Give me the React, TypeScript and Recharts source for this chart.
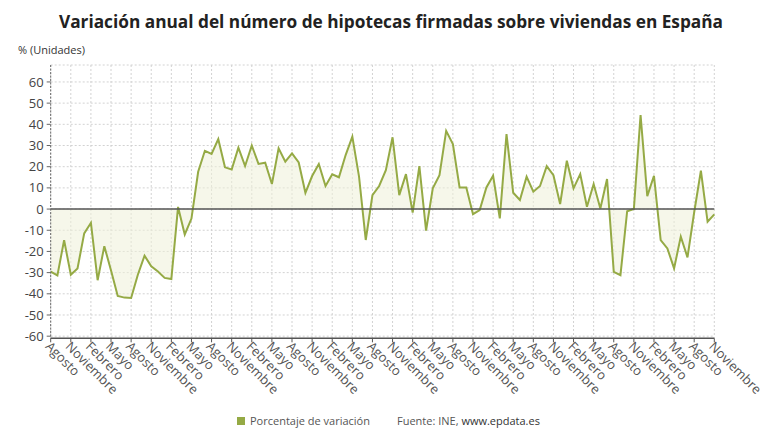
import React from 'react';
import { AreaChart, Area, XAxis, YAxis, CartesianGrid, ReferenceLine } from 'recharts';

// Variación anual (%) del número de hipotecas sobre viviendas, serie mensual
const variacion: number[] = [
  -29.5, -31.3, -14.7, -31, -28, -11.5, -6.5, -33.6, -17.5, -29,
  -41, -41.8, -42, -31, -22, -27, -29.5, -32.5, -33, 1,
  -12, -4.5, 17.6, 27.5, 26, 33, 19.7, 18.7, 29, 20.3,
  30, 21.3, 21.9, 11.8, 28.7, 22.4, 26.3, 22, 7.7, 15.6,
  21.3, 10.9, 16.4, 15, 25.5, 34.2, 15.3, -14.6, 6.6, 10.9,
  18.4, 33.9, 6.6, 16.5, -1.7, 20.3, -10.2, 9.8, 16, 36.9,
  30.7, 10.2, 10.2, -2.4, -0.5, 10.2, 15.7, -4.4, 35.4, 7.7,
  4.3, 15.3, 8.2, 10.9, 20.3, 16, 2.4, 22.8, 9.8, 16.5,
  1.1, 11.8, 0.3, 14.2, -29.6, -31.2, -1, 0, 44.4, 6.1,
  15.7, -14.6, -18.6, -28, -13, -22.8, -1.5, 18.1, -6, -2.5,
];

// Etiquetas trimestrales del eje horizontal
const etiquetasMes: string[] = [
  'Agosto', 'Noviembre', 'Febrero', 'Mayo', 'Agosto', 'Noviembre', 'Febrero', 'Mayo',
  'Agosto', 'Noviembre', 'Febrero', 'Mayo', 'Agosto', 'Noviembre', 'Febrero', 'Mayo',
  'Agosto', 'Noviembre', 'Febrero', 'Mayo', 'Agosto', 'Noviembre', 'Febrero', 'Mayo',
  'Agosto', 'Noviembre', 'Febrero', 'Mayo', 'Agosto', 'Noviembre', 'Febrero', 'Mayo',
  'Agosto', 'Noviembre',
];

const ticksY: number[] = [-60, -50, -40, -30, -20, -10, 0, 10, 20, 30, 40, 50, 60];

const VERDE = '#95aa45';
const FUENTE = '"Open Sans", sans-serif';

const datos = variacion.map((v, i) => ({ i, v }));
const ticksX = etiquetasMes.map((_, k) => k * 3);

const MesTick = (props: any) => {
  const { x, y, payload } = props;
  const etiqueta = etiquetasMes[Math.round(payload.value / 3)];
  return (
    <g transform={`translate(${x - 6},${y + 3}) rotate(45)`}>
      <text x={0} y={0} textAnchor="start" fontSize={13} fill="#555" fontFamily={FUENTE}>
        {etiqueta}
      </text>
    </g>
  );
};

export default function App() {
  return (
    <div style={{ position: 'absolute', left: 0, top: 0, width: 780, height: 440, background: '#fff' }}>
      <AreaChart
        width={780}
        height={440}
        data={datos}
        margin={{ top: 65, right: 65.7, bottom: 71.7, left: 5.7 }}
      >
        <CartesianGrid stroke="#d2d2d2" strokeDasharray="2 2" />
        <XAxis
          dataKey="i"
          type="number"
          domain={[0, 99]}
          ticks={ticksX}
          interval={0}
          height={30}
          tick={<MesTick />}
          tickSize={4}
          tickMargin={2}
          axisLine={{ stroke: '#555', strokeWidth: 1.5 }}
          tickLine={{ stroke: '#555' }}
        />
        <YAxis
          type="number"
          domain={[-61, 68]}
          ticks={ticksY}
          interval={0}
          width={45}
          tickSize={4}
          tickMargin={3}
          tick={{ fontSize: 13, fill: '#444', fontFamily: FUENTE }}
          axisLine={{ stroke: '#666', strokeDasharray: '2 1.5' }}
          tickLine={{ stroke: '#666' }}
        />
        <ReferenceLine y={0} stroke="#555" strokeWidth={1.5} />
        <Area
          type="linear"
          dataKey="v"
          baseValue={0}
          stroke={VERDE}
          strokeWidth={2}
          fill="#eef0d8"
          fillOpacity={0.55}
          dot={false}
          activeDot={false}
          isAnimationActive={false}
        />
      </AreaChart>
      <svg
        width={780}
        height={440}
        style={{ position: 'absolute', left: 0, top: 0, pointerEvents: 'none' }}
      >
        <text x={391} y={28} textAnchor="middle" fontSize={17.25} fontWeight={700} fill="#222" fontFamily={FUENTE}>
          Variación anual del número de hipotecas firmadas sobre viviendas en España
        </text>
        <text x={18} y={54} fontSize={11} fill="#333" fontFamily={FUENTE}>
          % (Unidades)
        </text>
        <rect x={237} y={417} width={8} height={8} fill={VERDE} />
        <text x={250} y={425} fontSize={11} fill="#555" fontFamily={FUENTE}>
          Porcentaje de variación
        </text>
        <text x={397} y={425} fontSize={11} fill="#555" fontFamily={FUENTE}>
          Fuente: INE, <tspan fill="#333">www.epdata.es</tspan>
        </text>
      </svg>
    </div>
  );
}
